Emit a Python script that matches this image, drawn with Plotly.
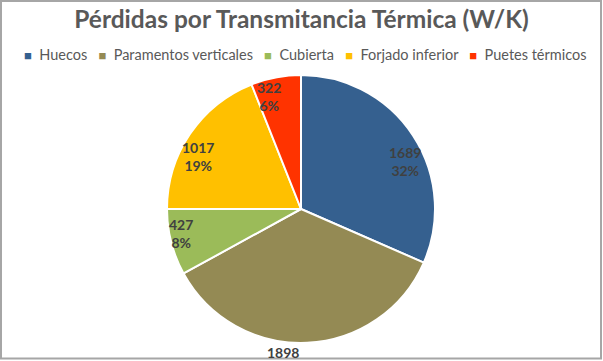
import plotly.graph_objects as go

categories = ["Huecos", "Paramentos verticales", "Cubierta", "Forjado inferior", "Puetes térmicos"]
values = [1689, 1898, 427, 1017, 322]
colors = ["#35608F", "#948A54", "#9BBB59", "#FFC000", "#FF3300"]
show_pct = [True, False, True, True, True]

# label positions in pixels from top-left (layout, not data)
label_pos = [(405, 161), (283, 352), (181, 233), (198, 156), (269, 96)]

W, H = 603, 361
cx, cy, r = 301, 209, 134
FONT = "Lato"

total = sum(values)

fig = go.Figure(go.Pie(
    labels=categories,
    values=values,
    textinfo="none",
    hoverinfo="label+value+percent",
    sort=False,
    direction="clockwise",
    rotation=0,
    marker=dict(colors=colors, line=dict(color="white", width=2)),
    domain=dict(x=[(cx - r) / W, (cx + r) / W], y=[(H - cy - r) / H, (H - cy + r) / H]),
    showlegend=False,
))

annotations = []
for v, sp, (px, py) in zip(values, show_pct, label_pos):
    txt = f"{v}"
    if sp:
        txt += f"<br>{round(100 * v / total)}%"
    annotations.append(dict(
        text=f"<b>{txt}</b>", x=px / W, y=1 - py / H, xref="paper", yref="paper",
        xanchor="center", yanchor="middle", showarrow=False,
        font=dict(family=FONT, size=14, color="#404040"),
    ))

legend_parts = []
for name, c in zip(categories, colors):
    legend_parts.append(f"<span style='color:{c};font-size:13px'>■</span>&nbsp;&nbsp;{name}")
legend_text = "&nbsp;&nbsp;&nbsp;".join(legend_parts)
annotations.append(dict(
    text=legend_text, x=305 / W, y=1 - 55 / H, xref="paper", yref="paper",
    xanchor="center", yanchor="middle", showarrow=False,
    font=dict(family=FONT, size=14.5, color="#595959"),
))

fig.update_layout(
    width=W, height=H,
    margin=dict(l=0, r=0, t=0, b=0),
    paper_bgcolor="white",
    plot_bgcolor="white",
    title=dict(text="<b>Pérdidas por Transmitancia Térmica (W/K)</b>",
               x=0.5, xanchor="center", y=1 - 19 / H, yanchor="middle",
               font=dict(family=FONT, size=24.5, color="#595959")),
    annotations=annotations,
    shapes=[dict(type="rect", xref="paper", yref="paper",
                 x0=1 / W, x1=601 / W, y0=1 - 358.5 / H, y1=1 - 1 / H,
                 line=dict(color="#A6A6A6", width=2))],
)

fig.write_html("out.html", config={"displayModeBar": False},
               post_script="document.body.style.margin='0';")
